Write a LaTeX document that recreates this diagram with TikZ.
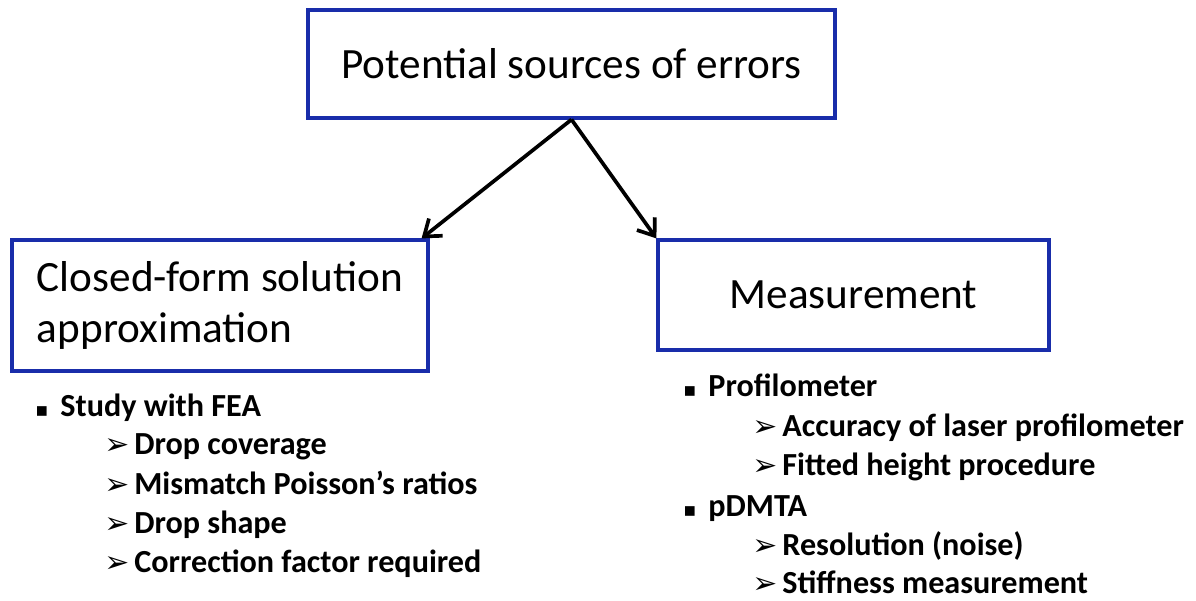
\documentclass[tikz,border=0pt]{standalone}
\usepackage{fontspec}
\setmainfont{Carlito}
\newfontfamily\symb{DejaVu Sans}
\usetikzlibrary{arrows.meta, positioning}

\definecolor{boxblue}{RGB}{25,45,170}

% list markers
\newcommand{\itembul}{{\symb\fontsize{11}{11}\selectfont ▪}\hspace{0.24cm}}
\newcommand{\subbul}{{\symb\fontsize{17}{17}\selectfont ➢}\hspace{0.1cm}}

\begin{document}
\begin{tikzpicture}[
    font=\fontsize{24.6}{29.5}\selectfont,
    box/.style={draw=boxblue, line width=1.8pt, align=left, inner sep=0pt},
    arrow/.style={-{Straight Barb[length=0.3cm, width=0.44cm]}, line width=2.1pt},
    item/.style={anchor=base west, inner sep=0pt, font=\fontsize{18.3}{22}\selectfont\bfseries}
]
    \useasboundingbox (0,0) rectangle (23.92,12.02);

    \node (top) [box, minimum width=10.54cm, minimum height=2.16cm] at (11.43,10.74) {Potential sources of errors};

    \node (closed) [box, minimum width=8.32cm, minimum height=2.62cm] at (4.40,5.91) {Closed-form solution\\approximation};

    \node (meas) [box, minimum width=7.82cm, minimum height=2.20cm] at (17.07,6.12) {Measurement};

    \draw[arrow] (top.south) -- ([xshift=-0.16cm]closed.north east);
    \draw[arrow] (top.south) -- (meas.north west);

    % closed-form side
    \node (fea) [item] at (0.70,3.68) {\itembul Study with FEA};
    \node (cov) [item] at (2.08,2.92) {\subbul Drop coverage};
    \node (poi) [item] at (2.08,2.12) {\subbul Mismatch Poisson’s ratios};
    \node (shp) [item] at (2.08,1.34) {\subbul Drop shape};
    \node (cor) [item] at (2.08,0.56) {\subbul Correction factor required};

    % measurement side
    \node (prof) [item] at (13.66,4.08) {\itembul Profilometer};
    \node (acc) [item] at (15.04,3.28) {\subbul Accuracy of laser profilometer};
    \node (fit) [item] at (15.04,2.50) {\subbul Fitted height procedure};
    \node (dmta) [item] at (13.66,1.68) {\itembul pDMTA};
    \node (res) [item] at (15.04,0.90) {\subbul Resolution (noise)};
    \node (stf) [item] at (15.04,0.15) {\subbul Stiffness measurement};
\end{tikzpicture}
\end{document}
